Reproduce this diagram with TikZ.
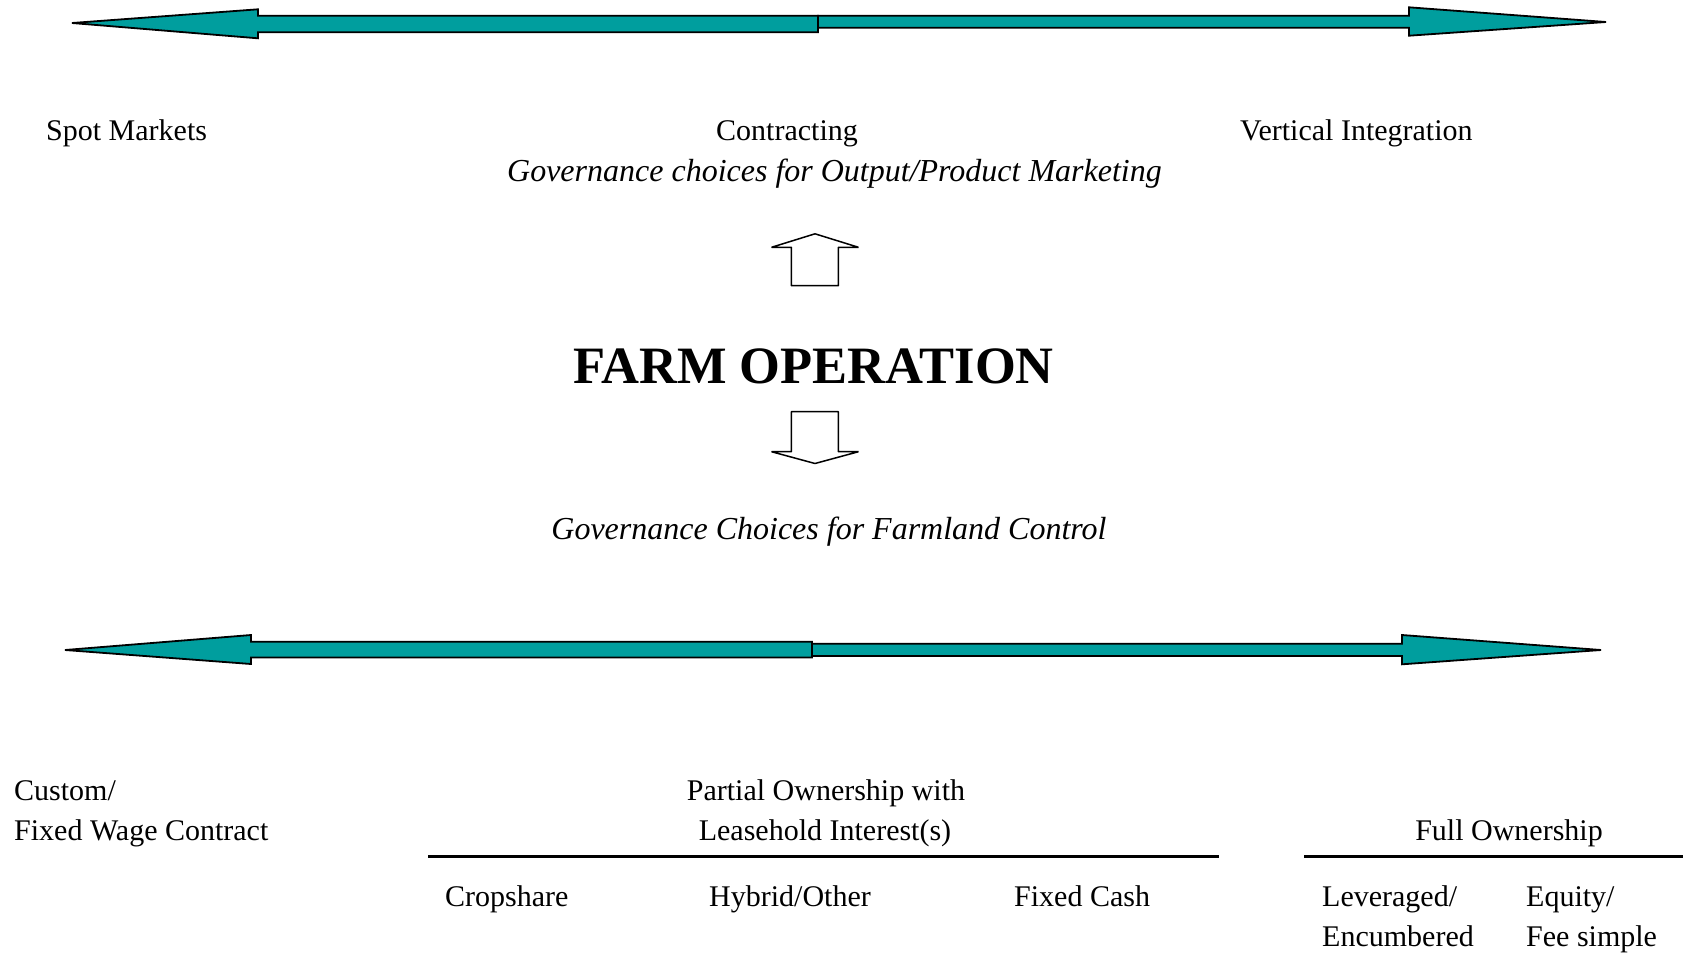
\documentclass[tikz,border=0pt]{standalone}
\usepackage{fontspec}
\setmainfont{Liberation Serif}
\definecolor{tealfill}{RGB}{0,158,158}
\tikzset{
  bigarrow/.style={fill=tealfill, draw=black, line width=1.8pt, line join=miter},
  blockarrow/.style={fill=white, draw=black, line width=1.5pt, line join=bevel},
  lbl/.style={inner sep=0pt, font=\fontsize{30}{36}\selectfont},
  ital/.style={inner sep=0pt, font=\fontsize{32}{38}\selectfont\itshape},
  title/.style={inner sep=0pt, font=\fontsize{52.5}{60}\selectfont\bfseries},
  rulebar/.style={draw=black, line width=2.4pt}
}
\begin{document}
\begin{tikzpicture}[x=1pt,y=-1pt]
\useasboundingbox (0,0) rectangle (1683,954);
% top double arrow
\draw[bigarrow] (818,15.7) -- (1409,15.7) -- (1409,7.3) -- (1606,22) -- (1409,35.7) -- (1409,27.7) -- (818,27.7) -- cycle;
\draw[bigarrow] (818,15.7) -- (258,15.7) -- (258,9.3) -- (72,23) -- (258,38.3) -- (258,32.3) -- (818,32.3) -- cycle;
% bottom double arrow
\draw[bigarrow] (812,643.7) -- (1402,643.7) -- (1402,635) -- (1601,650) -- (1402,664.3) -- (1402,656) -- (812,656) -- cycle;
\draw[bigarrow] (812,641.7) -- (251,641.7) -- (251,635) -- (65,650) -- (251,664) -- (251,657.5) -- (812,657.5) -- cycle;
% block arrows
\draw[blockarrow] (815,233.8) -- (858.5,247.3) -- (838.3,247.3) -- (838.3,285.7) -- (791.3,285.7) -- (791.3,247.3) -- (771.5,247.3) -- cycle;
\draw[blockarrow] (791.3,411.7) -- (838.3,411.7) -- (838.3,451.7) -- (858.5,451.7) -- (815,463.5) -- (771.5,451.7) -- (791.3,451.7) -- cycle;
% top labels
\node[lbl, anchor=base west] (spot) at (46,140.6) {Spot Markets};
\node[lbl, anchor=base] (contr) at (787,140.6) {Contracting};
\node[lbl, anchor=base west] (vert) at (1240,140.6) {Vertical Integration};
\node[ital, anchor=base] (gout) at (834.5,181) {Governance choices for Output/Product Marketing};
\node[title, anchor=base] (farm) at (813.5,383) {FARM OPERATION};
\node[ital, anchor=base] (gland) at (829,539) {Governance Choices for Farmland Control};
% bottom labels
\node[lbl, anchor=base west] (cust1) at (14,800.5) {Custom/};
\node[lbl, anchor=base west] (cust2) at (14,840) {Fixed Wage Contract};
\node[lbl, anchor=base] (part1) at (826,800.5) {Partial Ownership with};
\node[lbl, anchor=base] (part2) at (825,840) {Leasehold Interest(s)};
\node[lbl, anchor=base] (full) at (1509,840) {Full Ownership};
\coordinate (r1a) at (428,856.5);
\coordinate (r1b) at (1219,856.5);
\coordinate (r2a) at (1304,856.5);
\coordinate (r2b) at (1683,856.5);
\draw[rulebar] (r1a) -- (r1b);
\draw[rulebar] (r2a) -- (r2b);
\node[lbl, anchor=base west] (crop) at (445,906.5) {Cropshare};
\node[lbl, anchor=base west] (hyb) at (709,906.5) {Hybrid/Other};
\node[lbl, anchor=base west] (cash) at (1014,906.5) {Fixed Cash};
\node[lbl, anchor=base west] (lev1) at (1322,906.5) {Leveraged/};
\node[lbl, anchor=base west] (lev2) at (1322,946.5) {Encumbered};
\node[lbl, anchor=base west] (eq1) at (1526,906.5) {Equity/};
\node[lbl, anchor=base west] (eq2) at (1526,946.5) {Fee simple};
\end{tikzpicture}
\end{document}
